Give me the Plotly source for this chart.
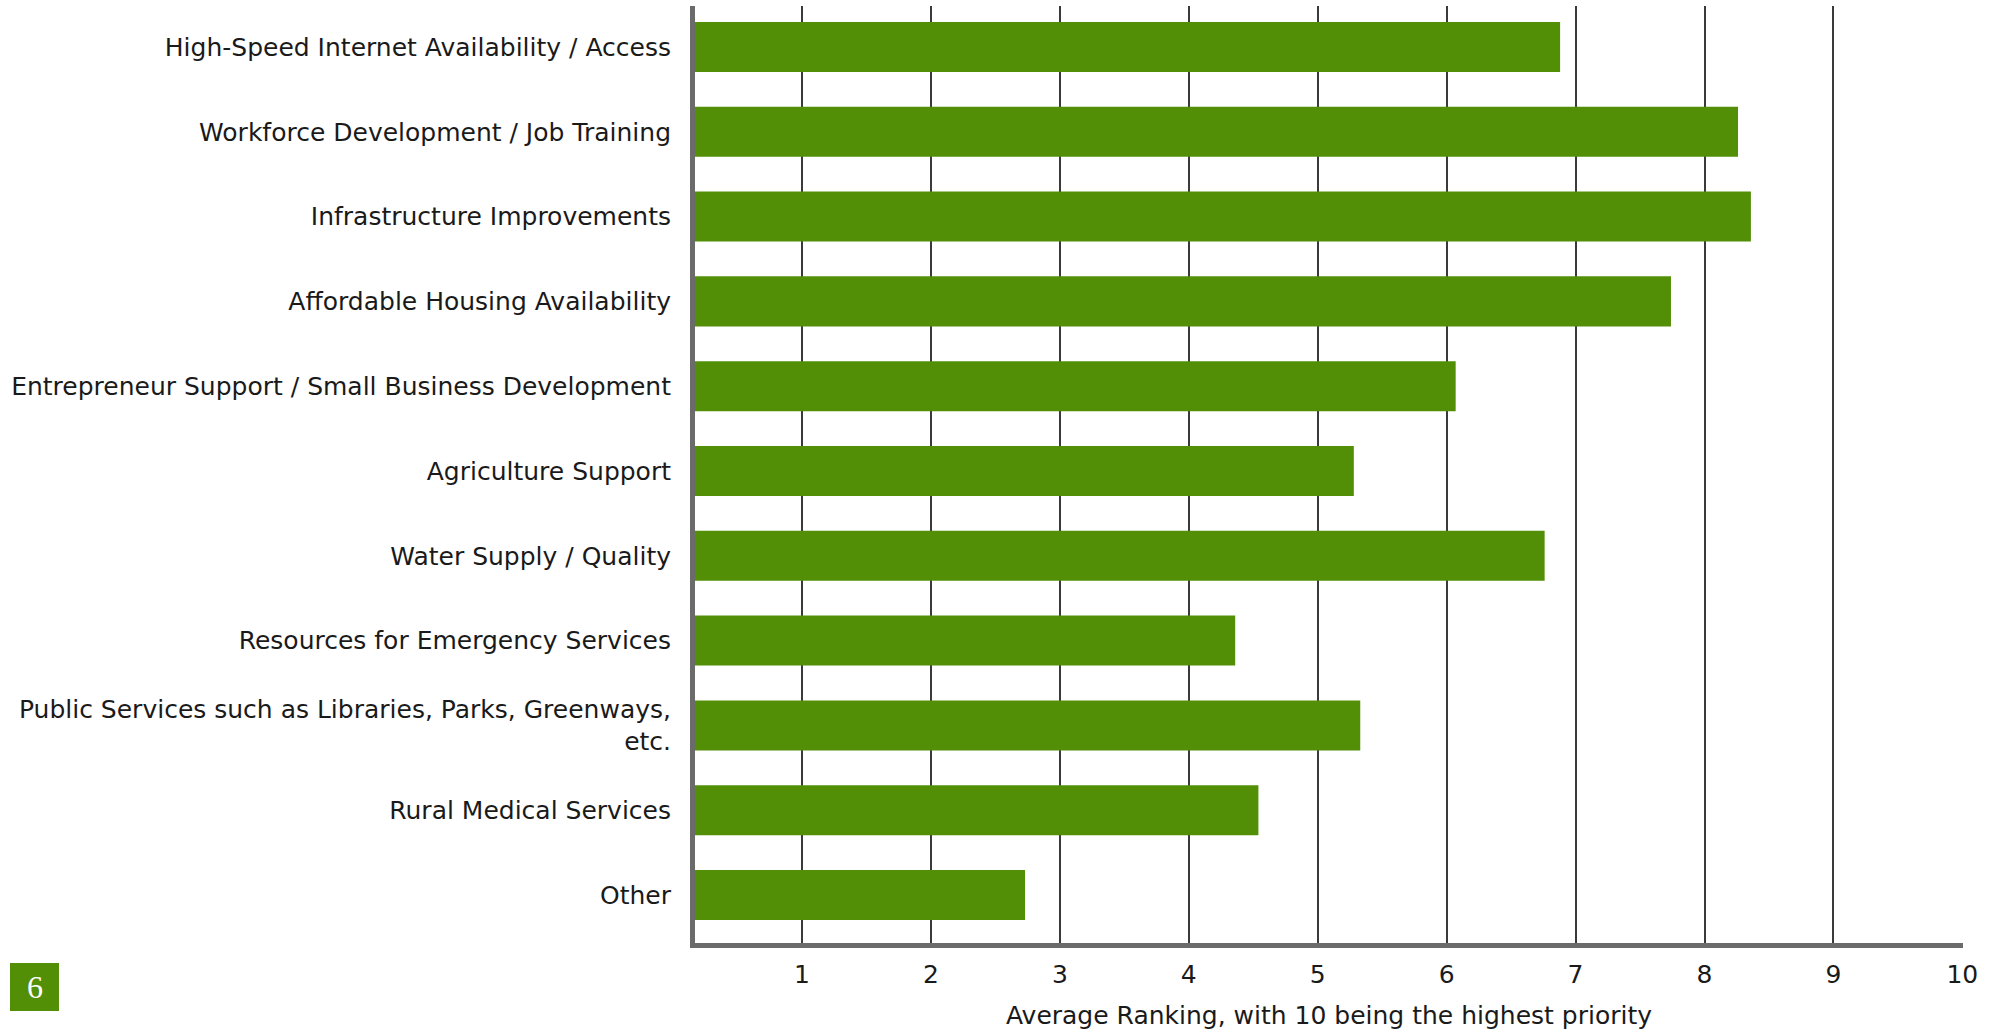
import plotly.graph_objects as go

categories = [
    "High-Speed Internet Availability / Access",
    "Workforce Development / Job Training",
    "Infrastructure Improvements",
    "Affordable Housing Availability",
    "Entrepreneur Support / Small Business Development",
    "Agriculture Support",
    "Water Supply / Quality",
    "Resources for Emergency Services",
    "Public Services such as Libraries, Parks, Greenways,<br>etc.",
    "Rural Medical Services",
    "Other",
]
values = [6.88, 8.26, 8.36, 7.74, 6.07, 5.28, 6.76, 4.36, 5.33, 4.54, 2.73]
tick_vals = [1, 2, 3, 4, 5, 6, 7, 8, 9, 10]
tick_text = [str(v) for v in tick_vals]
x_title = "Average Ranking, with 10 being the highest priority"
page_number = "6"

W, H = 1999, 1031
L, R, T, B = 695, 36, 6, 88
green = "#528F07"
font_family = "'DejaVu Sans', sans-serif"

fig = go.Figure(
    go.Bar(
        x=values,
        y=categories,
        orientation="h",
        marker=dict(color=green, line=dict(width=0)),
        width=0.59,
        hoverinfo="x+y",
    )
)

pw = W - L - R
ph = H - T - B

def px_x(p):
    return (p - L) / pw

def px_y(p):
    return (H - B - p) / ph

fig.add_shape(
    type="rect", xref="paper", yref="paper",
    x0=px_x(10), x1=px_x(59), y0=px_y(1011), y1=px_y(963),
    fillcolor=green, line=dict(width=0), layer="above",
)
fig.add_annotation(
    text=page_number, xref="paper", yref="paper",
    x=px_x(34.5), y=px_y(987), showarrow=False,
    xanchor="center", yanchor="middle",
    font=dict(family="'Liberation Serif', 'DejaVu Serif', serif", size=32, color="white"),
)

fig.update_layout(
    width=W, height=H,
    margin=dict(l=L, r=R, t=T, b=B, pad=0),
    paper_bgcolor="white", plot_bgcolor="white",
    showlegend=False,
    font=dict(family=font_family, color="#1a1a1a"),
    xaxis=dict(
        range=[0.17, 10.005],
        tickmode="array", tickvals=tick_vals, ticktext=tick_text,
        showgrid=True, gridcolor="#3a3a3a", gridwidth=1.5,
        zeroline=False, automargin=False,
        showline=True, linecolor="#6b6b6b", linewidth=5,
        ticks="", ticklabelstandoff=5, tickfont=dict(size=25, color="#1a1a1a"),
        title=dict(text=x_title, font=dict(size=25, color="#1a1a1a"), standoff=20),
    ),
    yaxis=dict(
        type="category",
        categoryorder="array", categoryarray=categories,
        range=[10.566, -0.483],
        showgrid=False, zeroline=False, automargin=False,
        showline=True, linecolor="#6b6b6b", linewidth=5,
        ticks="", ticklabelstandoff=14,
        tickfont=dict(size=25, color="#1a1a1a"),
    ),
)

fig.write_html("out.html")
